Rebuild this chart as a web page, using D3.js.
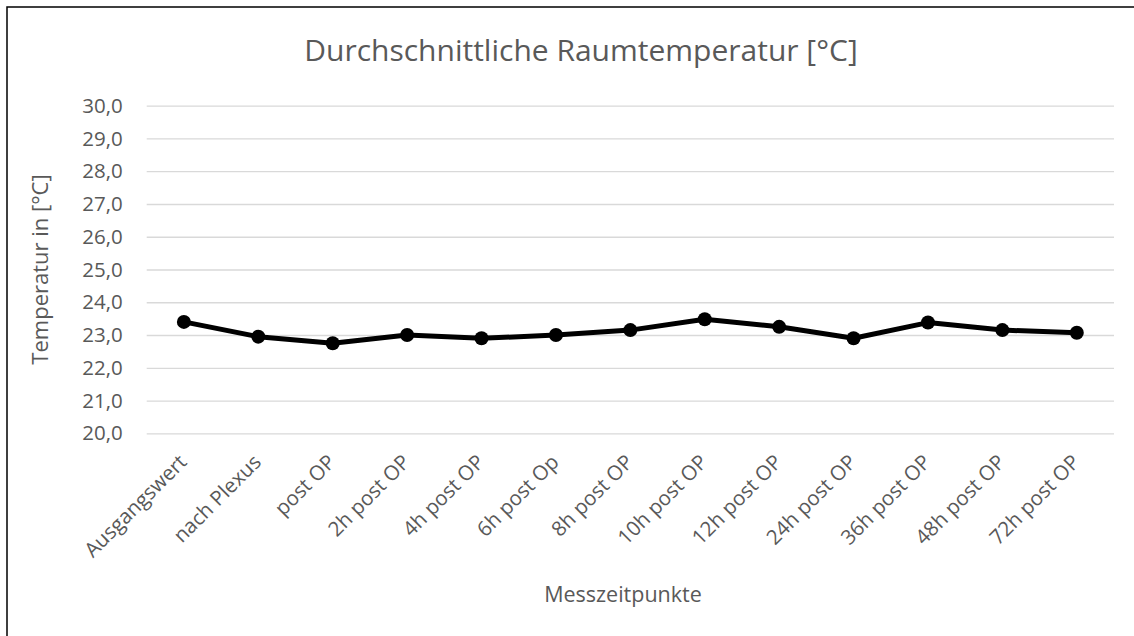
<!DOCTYPE html>
<html>
<head>
<meta charset="utf-8">
<script src="https://cdn.jsdelivr.net/npm/d3@7"></script>
<style>
  body { margin: 0; background: #fff; }
  text { font-family: "Open Sans", "Liberation Sans", sans-serif; fill: #595959; }
</style>
</head>
<body>
<div id="chart"></div>
<script>
const categories = ["Ausgangswert", "nach Plexus", "post OP", "2h post OP", "4h post OP", "6h post Op",
  "8h post OP", "10h post OP", "12h post OP", "24h post OP", "36h post OP", "48h post OP", "72h post OP"]
const temps = [23.4, 22.95, 22.75, 23.0, 22.9, 23.0, 23.15, 23.48, 23.25, 22.9, 23.38, 23.15, 23.07]
const yTicks = [20, 21, 22, 23, 24, 25, 26, 27, 28, 29, 30]

const width = 1134
const height = 636
const margin = {top: 105.7, right: 20, bottom: 202.7, left: 146.7}

const svg = d3.select('#chart')
              .append('svg')
              .attr('width', width)
              .attr('height', height)

// outer frame (only top/left visible in the picture)
svg.append('rect')
   .attr('x', 7).attr('y', 7)
   .attr('width', width + 10).attr('height', height + 10)
   .attr('fill', 'none')
   .attr('stroke', '#000')
   .attr('stroke-width', 1.5)

const x = d3.scaleBand()
            .domain(categories)
            .range([margin.left, width - margin.right])

const y = d3.scaleLinear()
            .domain([20, 30])
            .range([height - margin.bottom, margin.top])

// gridlines
svg.append('g')
   .attr('class', 'grid')
   .attr('transform', 'translate(' + margin.left + ',0)')
   .call(d3.axisLeft(y).tickValues(yTicks).tickSize(-(width - margin.right - margin.left)).tickFormat(''))
   .call(g => g.select('.domain').remove())
   .call(g => g.selectAll('line').attr('stroke', '#d9d9d9').attr('stroke-width', 1.3))

// y axis labels
svg.append('g')
   .attr('transform', 'translate(' + (margin.left - 24) + ',0)')
   .call(d3.axisLeft(y).tickValues(yTicks).tickSize(0).tickFormat(d => d3.format('.1f')(d).replace('.', ',')))
   .call(g => g.select('.domain').remove())
   .call(g => g.selectAll('text').attr('font-size', 20.5).attr('fill', '#595959').attr('x', 0))

// x axis labels
svg.append('g')
   .attr('transform', 'translate(0,' + (height - margin.bottom) + ')')
   .call(d3.axisBottom(x).tickSize(0))
   .call(g => g.select('.domain').remove())
   .call(g => g.selectAll('text')
               .attr('font-size', 20.5)
               .attr('fill', '#595959')
               .attr('text-anchor', 'end')
               .attr('y', 0)
               .attr('dy', '0.35em')
               .attr('transform', 'translate(-1,25) rotate(-45)'))

// line + markers
const line = d3.line()
               .x((d, i) => x(categories[i]) + x.bandwidth() / 2)
               .y(d => y(d))

svg.append('path')
   .datum(temps)
   .attr('d', line)
   .attr('fill', 'none')
   .attr('stroke', '#000')
   .attr('stroke-width', 5)
   .attr('stroke-linejoin', 'round')

svg.append('g')
   .selectAll('circle')
   .data(temps)
   .enter()
   .append('circle')
   .attr('cx', (d, i) => x(categories[i]) + x.bandwidth() / 2)
   .attr('cy', d => y(d))
   .attr('r', 7)
   .attr('fill', '#000')

// titles
svg.append('text')
   .attr('x', 581)
   .attr('y', 61)
   .attr('text-anchor', 'middle')
   .attr('font-size', 30)
   .text('Durchschnittliche Raumtemperatur [°C]')

svg.append('text')
   .attr('transform', 'translate(48,' + y(25) + ') rotate(-90)')
   .attr('text-anchor', 'middle')
   .attr('font-size', 22)
   .text('Temperatur in [°C]')

svg.append('text')
   .attr('x', 623)
   .attr('y', 602)
   .attr('text-anchor', 'middle')
   .attr('font-size', 21.5)
   .text('Messzeitpunkte')
</script>
</body>
</html>
